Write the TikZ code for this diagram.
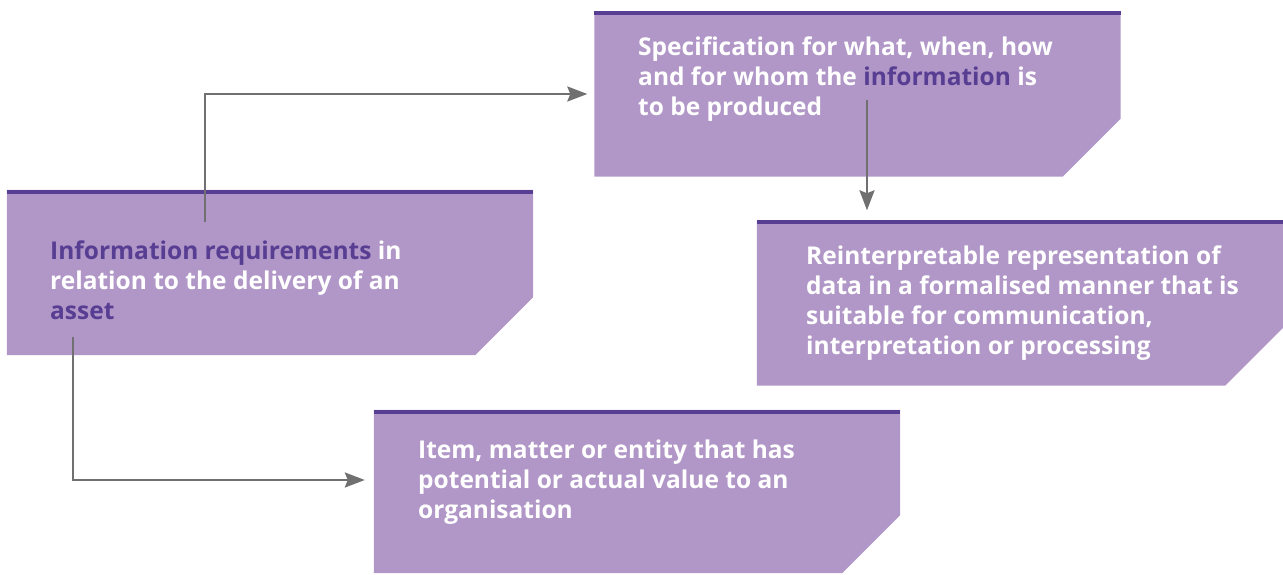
\documentclass[tikz,border=0pt]{standalone}
\usepackage{fontspec}
\setmainfont{Open Sans}
\usepackage{xcolor}
\usetikzlibrary{arrows.meta, positioning}

\definecolor{boxpurple}{RGB}{177,151,199}
\definecolor{deeppurple}{RGB}{88,62,146}
\definecolor{arrowgray}{RGB}{112,112,112}

\begin{document}
\begin{tikzpicture}[x=1pt, y=1pt,
			area/.style={minimum width=526pt, minimum height=165pt, inner sep=0pt},
			boxfill/.style={fill=boxpurple},
			bar/.style={draw=deeppurple, line width=4pt},
			txt/.style={anchor=north west, inner sep=0pt, align=left, text=white,
				font=\fontsize{24.5}{30}\selectfont\bfseries},
			flow/.style={draw=arrowgray, line width=2.4pt,
				-{Stealth[length=20pt, width=15pt, inset=3pt]}}]
			
			\useasboundingbox (0,0) rectangle (1283,574);
			
			% Riquadri
			\node[area] (req) at (270,301.5) {};
			\node[area] (spec) at (857.5,480) {};
			\node[area] (data) at (1020,271) {};
			\node[area, minimum height=163pt] (item) at (637,82.5) {};
			
			% Sfondo con angolo smussato e barra in alto
			\foreach \b in {req,spec,data,item} {
				\fill[boxfill] (\b.north west) -- (\b.north east) -- ([yshift=58pt]\b.south east)
					-- ([xshift=-58pt]\b.south east) -- (\b.south west) -- cycle;
				\draw[bar] ([yshift=-2pt]\b.north west) -- ([yshift=-2pt]\b.north east);
			}
			
			% Testi
			\node[txt] (req-text) at (50,333) {\textcolor{deeppurple}{Information requirements} in\\
				relation to the delivery of an\\ \textcolor{deeppurple}{asset}};
			\node[txt] (spec-text) at (638,537.5) {Specification for what, when, how\\
				and for whom the \textcolor{deeppurple}{information} is\\ to be produced};
			\node[txt] (data-text) at (806,328.5) {Reinterpretable representation of\\
				data in a formalised manner that is\\ suitable for communication,\\
				interpretation or processing};
			\node[txt] (item-text) at (418,134.5) {Item, matter or entity that has\\
				potential or actual value to an\\ organisation};
			
			% Punti di partenza delle frecce
			\coordinate (req-up) at (205,352);
			\coordinate (req-down) at (73,237);
			\coordinate (spec-down) at (867,474);
			
			% Frecce
			\draw[flow, shorten >=7pt] (req-up) |- (spec);
			\draw[flow, shorten >=9pt] (req-down) |- ([yshift=11.5pt]item.west);
			\draw[flow, shorten >=10pt] (spec-down) -- (spec-down |- data.north);
		\end{tikzpicture}
\end{document}
